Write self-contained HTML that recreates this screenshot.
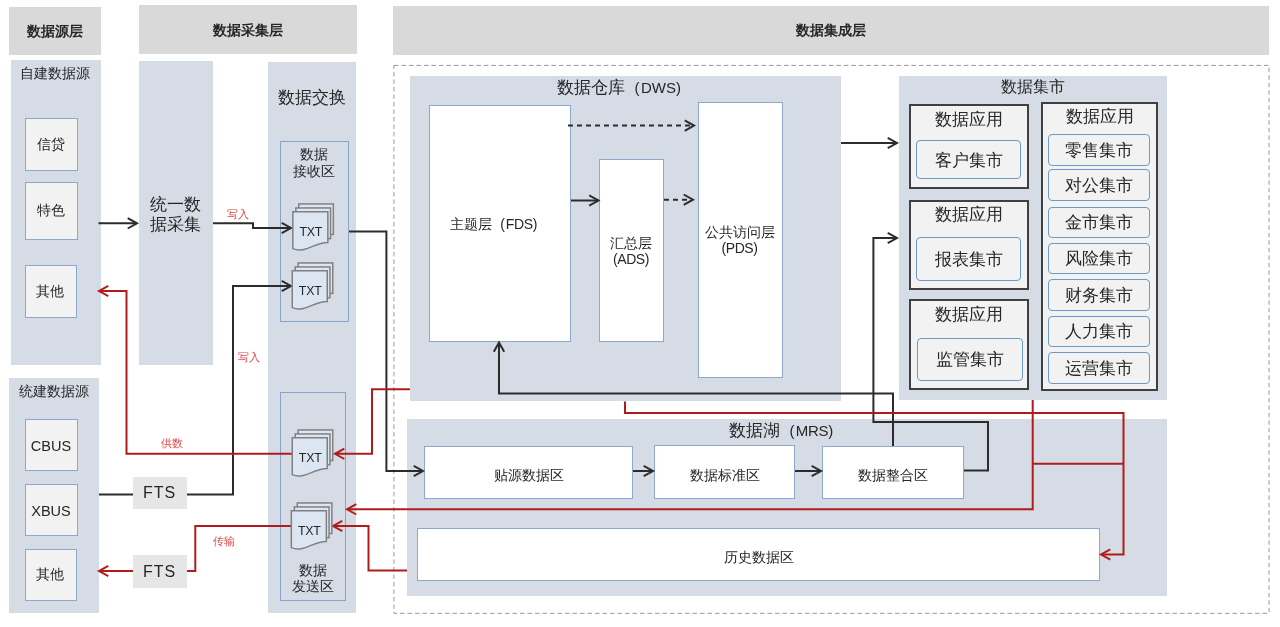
<!DOCTYPE html><html><head><meta charset="utf-8"><style>
html,body{margin:0;padding:0;background:#fff;}
#w{position:absolute;left:0;top:0;width:1280px;height:627px;will-change:transform;}
body{width:1280px;height:627px;position:relative;overflow:hidden;font-family:"Liberation Sans",sans-serif;color:#262626;}
.t{position:absolute;display:flex;align-items:center;justify-content:center;text-align:center;white-space:nowrap;}
</style></head><body>
<div id="w"><div style="position:absolute;left:9px;top:7px;width:92px;height:48px;background:#d9d9d9;"></div>
<div class="t" style="left:9px;top:8px;width:92px;height:48px;font-weight:bold;font-size:13.5px;"><div>数据源层</div></div>
<div style="position:absolute;left:139px;top:5px;width:218px;height:49px;background:#d9d9d9;"></div>
<div class="t" style="left:139px;top:6.1px;width:218px;height:49px;font-weight:bold;font-size:13.5px;"><div>数据采集层</div></div>
<div style="position:absolute;left:393px;top:6px;width:876px;height:49px;background:#d9d9d9;"></div>
<div class="t" style="left:393px;top:6.9px;width:876px;height:49px;font-weight:bold;font-size:13.5px;"><div>数据集成层</div></div>
<div style="position:absolute;left:11px;top:60px;width:90px;height:305px;background:#d6dce5;"></div>
<div class="t" style="left:10.2px;top:64px;width:90px;height:20px;font-size:14px;"><div>自建数据源</div></div>
<div style="position:absolute;left:139px;top:61px;width:74px;height:304px;background:#d6dce5;"></div>
<div class="t" style="left:138.7px;top:191.5px;width:74px;height:44px;font-size:16.5px;line-height:20px;"><div>统一数<br>据采集</div></div>
<div style="position:absolute;left:268px;top:62px;width:88px;height:551px;background:#d6dce5;"></div>
<div class="t" style="left:268.3px;top:87px;width:88px;height:22px;font-size:16.5px;"><div>数据交换</div></div>
<div style="position:absolute;left:9px;top:378px;width:90px;height:235px;background:#d6dce5;"></div>
<div class="t" style="left:9px;top:382px;width:90px;height:20px;font-size:14px;"><div>统建数据源</div></div>
<div style="position:absolute;left:25px;top:118px;width:53px;height:53px;background:#f2f2f2;border:1px solid #8ea8c9;box-sizing:border-box;"></div>
<div class="t" style="left:24.2px;top:118px;width:53px;height:53px;font-size:14px;"><div>信贷</div></div>
<div style="position:absolute;left:25px;top:182px;width:53px;height:58px;background:#f2f2f2;border:1px solid #8ea8c9;box-sizing:border-box;"></div>
<div class="t" style="left:24.2px;top:182px;width:53px;height:58px;font-size:14px;"><div>特色</div></div>
<div style="position:absolute;left:25px;top:265px;width:52px;height:53px;background:#f2f2f2;border:1px solid #8ea8c9;box-sizing:border-box;"></div>
<div class="t" style="left:24.2px;top:265px;width:52px;height:53px;font-size:14px;"><div>其他</div></div>
<div style="position:absolute;left:25px;top:549px;width:52px;height:52px;background:#f2f2f2;border:1px solid #8ea8c9;box-sizing:border-box;"></div>
<div class="t" style="left:24.2px;top:549px;width:52px;height:52px;font-size:14px;"><div>其他</div></div>
<div style="position:absolute;left:25px;top:419px;width:53px;height:52px;background:#f2f2f2;border:1px solid #8ea8c9;box-sizing:border-box;"></div>
<div class="t" style="left:24.5px;top:419.5px;width:53px;height:52px;font-size:14.5px;"><div>CBUS</div></div>
<div style="position:absolute;left:25px;top:484px;width:53px;height:52px;background:#f2f2f2;border:1px solid #8ea8c9;box-sizing:border-box;"></div>
<div class="t" style="left:24.5px;top:484.5px;width:53px;height:52px;font-size:14.5px;"><div>XBUS</div></div>
<div style="position:absolute;left:133px;top:477px;width:54px;height:32px;background:#e6e6e6;"></div>
<div class="t" style="left:132.5px;top:477px;width:54px;height:32px;font-size:16px;letter-spacing:1px;"><div>FTS</div></div>
<div style="position:absolute;left:133px;top:555px;width:54px;height:33px;background:#e6e6e6;"></div>
<div class="t" style="left:132.5px;top:555px;width:54px;height:33px;font-size:16px;letter-spacing:1px;"><div>FTS</div></div>
<div style="position:absolute;left:280px;top:141px;width:69px;height:181px;border:1px solid #86a5c9;box-sizing:border-box;"></div>
<div class="t" style="left:279.5px;top:144.5px;width:69px;height:36px;font-size:14px;line-height:16.5px;"><div>数据<br>接收区</div></div>
<div style="position:absolute;left:280px;top:392px;width:66px;height:209px;border:1px solid #86a5c9;box-sizing:border-box;"></div>
<div class="t" style="left:280px;top:560px;width:66px;height:36px;font-size:14px;line-height:16.5px;"><div>数据<br>发送区</div></div>
<div style="position:absolute;left:410px;top:76px;width:431px;height:325px;background:#d6dce5;"></div>
<div style="position:absolute;left:556.5px;top:77.7px;font-size:16.8px;line-height:20px;white-space:nowrap;">数据仓库</div>
<div style="position:absolute;left:634.5px;top:77.7px;font-size:15px;line-height:20px;white-space:nowrap;letter-spacing:0px"><span style="letter-spacing:1.5px">(</span>DWS)</div>
<div style="position:absolute;left:429px;top:105px;width:142px;height:237px;background:#fff;border:1px solid #8ea8c9;box-sizing:border-box;"></div>
<div style="position:absolute;left:450.3px;top:214px;font-size:14px;line-height:20px;white-space:nowrap;">主题层</div>
<div style="position:absolute;left:500.2px;top:214px;font-size:14px;line-height:20px;white-space:nowrap;letter-spacing:-0.4px"><span style="letter-spacing:1.0px">(</span>FDS)</div>
<div style="position:absolute;left:599px;top:159px;width:65px;height:183px;background:#fff;border:1px solid #8ea8c9;box-sizing:border-box;"></div>
<div class="t" style="left:599px;top:232.5px;width:64px;height:36px;font-size:14px;line-height:16px;"><div>汇总层<br><span style="font-size:14px;letter-spacing:-0.4px">(ADS)</span></div></div>
<div style="position:absolute;left:698px;top:102px;width:85px;height:276px;background:#fff;border:1px solid #8ea8c9;box-sizing:border-box;"></div>
<div class="t" style="left:697.5px;top:222px;width:84px;height:36px;font-size:14px;line-height:16px;"><div>公共访问层<br><span style="font-size:14px;letter-spacing:-0.4px">(PDS)</span></div></div>
<div style="position:absolute;left:899px;top:76px;width:268px;height:324px;background:#d6dce5;"></div>
<div class="t" style="left:898.5px;top:76.5px;width:268px;height:20px;font-size:16.4px;"><div>数据集市</div></div>
<div style="position:absolute;left:909px;top:104px;width:120px;height:85px;background:#f2f2f2;border:2px solid #404040;box-sizing:border-box;"></div>
<div class="t" style="left:909px;top:107px;width:119px;height:24px;font-size:16.8px;"><div>数据应用</div></div>
<div style="position:absolute;left:916px;top:140px;width:105px;height:39px;background:#f2f2f2;border:1.5px solid #6a9ac6;border-radius:4px;box-sizing:border-box;"></div>
<div class="t" style="left:916px;top:140.8px;width:105px;height:39px;font-size:16.8px;"><div>客户集市</div></div>
<div style="position:absolute;left:909px;top:200px;width:120px;height:90px;background:#f2f2f2;border:2px solid #404040;box-sizing:border-box;"></div>
<div class="t" style="left:909px;top:202px;width:119px;height:24px;font-size:16.8px;"><div>数据应用</div></div>
<div style="position:absolute;left:916px;top:237px;width:105px;height:44px;background:#f2f2f2;border:1.5px solid #6a9ac6;border-radius:4px;box-sizing:border-box;"></div>
<div class="t" style="left:916px;top:237.5px;width:105px;height:44px;font-size:16.8px;"><div>报表集市</div></div>
<div style="position:absolute;left:909px;top:299px;width:120px;height:91px;background:#f2f2f2;border:2px solid #404040;box-sizing:border-box;"></div>
<div class="t" style="left:909px;top:302.5px;width:119px;height:24px;font-size:16.8px;"><div>数据应用</div></div>
<div style="position:absolute;left:917px;top:338px;width:106px;height:43px;background:#f2f2f2;border:1.5px solid #6a9ac6;border-radius:4px;box-sizing:border-box;"></div>
<div class="t" style="left:917px;top:337.5px;width:106px;height:43px;font-size:16.8px;"><div>监管集市</div></div>
<div style="position:absolute;left:1041px;top:102px;width:117px;height:289px;background:#f2f2f2;border:2px solid #404040;box-sizing:border-box;"></div>
<div class="t" style="left:1041px;top:104.5px;width:117px;height:24px;font-size:16.8px;"><div>数据应用</div></div>
<div style="position:absolute;left:1048px;top:134px;width:102px;height:32px;background:#f2f2f2;border:1.5px solid #6a9ac6;border-radius:4px;box-sizing:border-box;"></div>
<div class="t" style="left:1048px;top:134px;width:102px;height:32px;font-size:16.8px;"><div>零售集市</div></div>
<div style="position:absolute;left:1048px;top:169px;width:102px;height:32px;background:#f2f2f2;border:1.5px solid #6a9ac6;border-radius:4px;box-sizing:border-box;"></div>
<div class="t" style="left:1048px;top:169px;width:102px;height:32px;font-size:16.8px;"><div>对公集市</div></div>
<div style="position:absolute;left:1048px;top:207px;width:102px;height:31px;background:#f2f2f2;border:1.5px solid #6a9ac6;border-radius:4px;box-sizing:border-box;"></div>
<div class="t" style="left:1048px;top:207px;width:102px;height:31px;font-size:16.8px;"><div>金市集市</div></div>
<div style="position:absolute;left:1048px;top:243px;width:102px;height:31px;background:#f2f2f2;border:1.5px solid #6a9ac6;border-radius:4px;box-sizing:border-box;"></div>
<div class="t" style="left:1048px;top:243px;width:102px;height:31px;font-size:16.8px;"><div>风险集市</div></div>
<div style="position:absolute;left:1048px;top:279px;width:102px;height:32px;background:#f2f2f2;border:1.5px solid #6a9ac6;border-radius:4px;box-sizing:border-box;"></div>
<div class="t" style="left:1048px;top:279px;width:102px;height:32px;font-size:16.8px;"><div>财务集市</div></div>
<div style="position:absolute;left:1048px;top:316px;width:102px;height:31px;background:#f2f2f2;border:1.5px solid #6a9ac6;border-radius:4px;box-sizing:border-box;"></div>
<div class="t" style="left:1048px;top:316px;width:102px;height:31px;font-size:16.8px;"><div>人力集市</div></div>
<div style="position:absolute;left:1048px;top:352px;width:102px;height:32px;background:#f2f2f2;border:1.5px solid #6a9ac6;border-radius:4px;box-sizing:border-box;"></div>
<div class="t" style="left:1048px;top:352px;width:102px;height:32px;font-size:16.8px;"><div>运营集市</div></div>
<div style="position:absolute;left:407px;top:419px;width:760px;height:177px;background:#d6dce5;"></div>
<div style="position:absolute;left:728.8px;top:420.5px;font-size:16.6px;line-height:20px;white-space:nowrap;">数据湖</div>
<div style="position:absolute;left:789.5px;top:420.5px;font-size:15px;line-height:20px;white-space:nowrap;letter-spacing:-0.3px"><span style="letter-spacing:1.2px">(</span>MRS)</div>
<div style="position:absolute;left:424px;top:446px;width:209px;height:53px;background:#fff;border:1px solid #8ea8c9;box-sizing:border-box;"></div>
<div class="t" style="left:424px;top:449.5px;width:209px;height:53px;font-size:14px;"><div>贴源数据区</div></div>
<div style="position:absolute;left:654px;top:445px;width:141px;height:54px;background:#fff;border:1px solid #8ea8c9;box-sizing:border-box;"></div>
<div class="t" style="left:654px;top:448.5px;width:141px;height:54px;font-size:14px;"><div>数据标准区</div></div>
<div style="position:absolute;left:822px;top:446px;width:142px;height:53px;background:#fff;border:1px solid #8ea8c9;box-sizing:border-box;"></div>
<div class="t" style="left:822px;top:449.5px;width:142px;height:53px;font-size:14px;"><div>数据整合区</div></div>
<div style="position:absolute;left:417px;top:528px;width:683px;height:53px;background:#fff;border:1px solid #8ea8c9;box-sizing:border-box;"></div>
<div class="t" style="left:417px;top:531.5px;width:683px;height:53px;font-size:14px;"><div>历史数据区</div></div>
<svg style="position:absolute;left:0;top:0" width="1280" height="627"><rect x="393.9" y="65.4" width="875.1" height="547.9" fill="none" stroke="#999" stroke-width="1" stroke-dasharray="4.5 3"/><polyline points="98.5,223.3 137,223.3" fill="none" stroke="#2c2c2c" stroke-width="2"/><polyline points="127.7,218.10000000000002 137,223.3 127.7,228.5" fill="none" stroke="#2c2c2c" stroke-width="2" stroke-linejoin="miter"/><polyline points="213,223.3 253,223.3 253,228 291,228" fill="none" stroke="#2c2c2c" stroke-width="2"/><polyline points="281.7,222.8 291,228 281.7,233.2" fill="none" stroke="#2c2c2c" stroke-width="2" stroke-linejoin="miter"/><polyline points="99,494.5 133,494.5" fill="none" stroke="#2c2c2c" stroke-width="2"/><polyline points="187,494.5 233,494.5 233,286 291,286" fill="none" stroke="#2c2c2c" stroke-width="2"/><polyline points="281.7,280.8 291,286 281.7,291.2" fill="none" stroke="#2c2c2c" stroke-width="2" stroke-linejoin="miter"/><polyline points="349,231.5 386.4,231.5 386.4,471 423,471" fill="none" stroke="#2c2c2c" stroke-width="2"/><polyline points="413.7,465.8 423,471 413.7,476.2" fill="none" stroke="#2c2c2c" stroke-width="2" stroke-linejoin="miter"/><polyline points="633,471 653,471" fill="none" stroke="#2c2c2c" stroke-width="2"/><polyline points="643.7,465.8 653,471 643.7,476.2" fill="none" stroke="#2c2c2c" stroke-width="2" stroke-linejoin="miter"/><polyline points="795,471 821,471" fill="none" stroke="#2c2c2c" stroke-width="2"/><polyline points="811.7,465.8 821,471 811.7,476.2" fill="none" stroke="#2c2c2c" stroke-width="2" stroke-linejoin="miter"/><polyline points="893,446 893,393.5 499,393.5 499,342.5" fill="none" stroke="#2c2c2c" stroke-width="2"/><polyline points="493.8,351.8 499,342.5 504.2,351.8" fill="none" stroke="#2c2c2c" stroke-width="2" stroke-linejoin="miter"/><polyline points="964,470.6 988,470.6 988,422 873.4,422 873.4,238 897,238" fill="none" stroke="#2c2c2c" stroke-width="2"/><polyline points="887.7,232.8 897,238 887.7,243.2" fill="none" stroke="#2c2c2c" stroke-width="2" stroke-linejoin="miter"/><polyline points="841,143 897,143" fill="none" stroke="#2c2c2c" stroke-width="2"/><polyline points="887.7,137.8 897,143 887.7,148.2" fill="none" stroke="#2c2c2c" stroke-width="2" stroke-linejoin="miter"/><polyline points="571,200.5 598.5,200.5" fill="none" stroke="#2c2c2c" stroke-width="2"/><polyline points="589.2,195.3 598.5,200.5 589.2,205.7" fill="none" stroke="#2c2c2c" stroke-width="2" stroke-linejoin="miter"/><polyline points="568,125.6 694,125.6" fill="none" stroke="#2c2c2c" stroke-width="2" stroke-dasharray="5,4"/><polyline points="684.7,120.39999999999999 694,125.6 684.7,130.79999999999998" fill="none" stroke="#2c2c2c" stroke-width="2" stroke-linejoin="miter"/><polyline points="664,199.7 693,199.7" fill="none" stroke="#2c2c2c" stroke-width="2" stroke-dasharray="5,4"/><polyline points="683.7,194.5 693,199.7 683.7,204.89999999999998" fill="none" stroke="#2c2c2c" stroke-width="2" stroke-linejoin="miter"/><polyline points="410,389.3 372,389.3 372,453.8 335,453.8" fill="none" stroke="#b01c1c" stroke-width="2"/><polyline points="344.3,448.6 335,453.8 344.3,459.0" fill="none" stroke="#b01c1c" stroke-width="2" stroke-linejoin="miter"/><polyline points="292,453.8 126.5,453.8 126.5,291 99,291" fill="none" stroke="#b01c1c" stroke-width="2"/><polyline points="108.3,285.8 99,291 108.3,296.2" fill="none" stroke="#b01c1c" stroke-width="2" stroke-linejoin="miter"/><polyline points="407,570.5 368.5,570.5 368.5,526 333,526" fill="none" stroke="#b01c1c" stroke-width="2"/><polyline points="342.3,520.8 333,526 342.3,531.2" fill="none" stroke="#b01c1c" stroke-width="2" stroke-linejoin="miter"/><polyline points="291,526 195.3,526 195.3,571 187,571" fill="none" stroke="#b01c1c" stroke-width="2"/><polyline points="133,571 99,571" fill="none" stroke="#b01c1c" stroke-width="2"/><polyline points="108.3,565.8 99,571 108.3,576.2" fill="none" stroke="#b01c1c" stroke-width="2" stroke-linejoin="miter"/><polyline points="625,401.5 625,413 1123.5,413 1123.5,554.5 1101,554.5" fill="none" stroke="#b01c1c" stroke-width="2"/><polyline points="1110.3,549.3 1101,554.5 1110.3,559.7" fill="none" stroke="#b01c1c" stroke-width="2" stroke-linejoin="miter"/><polyline points="1032.7,400 1032.7,509.3 347,509.3" fill="none" stroke="#b01c1c" stroke-width="2"/><polyline points="356.3,504.1 347,509.3 356.3,514.5" fill="none" stroke="#b01c1c" stroke-width="2" stroke-linejoin="miter"/><polyline points="1032.7,463.8 1123.5,463.8" fill="none" stroke="#b01c1c" stroke-width="2"/><rect x="298.75" y="203.95" width="34.6" height="30.5" style="fill:#dce6f2;stroke:#808080;stroke-width:1.5"/><rect x="295.85" y="207.95" width="34.7" height="30.7" style="fill:#dce6f2;stroke:#808080;stroke-width:1.5"/><path d="M292.85,211.64999999999998 H327.85 V242.45 C314.85,242.14999999999998 304.85,254.0 292.85,248.6 Z" style="fill:#dce6f2;stroke:#808080;stroke-width:1.5"/><text x="310.8" y="236.0" text-anchor="middle" font-family="Liberation Sans" font-size="12.4" letter-spacing="-0.2" fill="#262626">TXT</text><rect x="298.15" y="262.95" width="34.6" height="30.5" style="fill:#dce6f2;stroke:#808080;stroke-width:1.5"/><rect x="295.25" y="266.95" width="34.7" height="30.7" style="fill:#dce6f2;stroke:#808080;stroke-width:1.5"/><path d="M292.25,270.65 H327.25 V301.45 C314.25,301.15 304.25,313.0 292.25,307.59999999999997 Z" style="fill:#dce6f2;stroke:#808080;stroke-width:1.5"/><text x="310.2" y="295.0" text-anchor="middle" font-family="Liberation Sans" font-size="12.4" letter-spacing="-0.2" fill="#262626">TXT</text><rect x="298.15" y="429.95" width="34.6" height="30.5" style="fill:#dce6f2;stroke:#808080;stroke-width:1.5"/><rect x="295.25" y="433.95" width="34.7" height="30.7" style="fill:#dce6f2;stroke:#808080;stroke-width:1.5"/><path d="M292.25,437.65 H327.25 V468.45 C314.25,468.15 304.25,480.0 292.25,474.59999999999997 Z" style="fill:#dce6f2;stroke:#808080;stroke-width:1.5"/><text x="310.2" y="462.0" text-anchor="middle" font-family="Liberation Sans" font-size="12.4" letter-spacing="-0.2" fill="#262626">TXT</text><rect x="297.25" y="502.95" width="34.6" height="30.5" style="fill:#dce6f2;stroke:#808080;stroke-width:1.5"/><rect x="294.35" y="506.95" width="34.7" height="30.7" style="fill:#dce6f2;stroke:#808080;stroke-width:1.5"/><path d="M291.35,510.65 H326.35 V541.45 C313.35,541.1500000000001 303.35,553.0 291.35,547.6 Z" style="fill:#dce6f2;stroke:#808080;stroke-width:1.5"/><text x="309.3" y="535.0" text-anchor="middle" font-family="Liberation Sans" font-size="12.4" letter-spacing="-0.2" fill="#262626">TXT</text></svg>
<div style="position:absolute;left:227px;top:207px;font-size:11px;line-height:14px;color:#e04848;">写入</div><div style="position:absolute;left:237.5px;top:350px;font-size:11px;line-height:14px;color:#e04848;">写入</div><div style="position:absolute;left:160.5px;top:436px;font-size:11px;line-height:14px;color:#e04848;">供数</div><div style="position:absolute;left:212.7px;top:533.5px;font-size:11px;line-height:14px;color:#e04848;">传输</div>
</div></body></html>
